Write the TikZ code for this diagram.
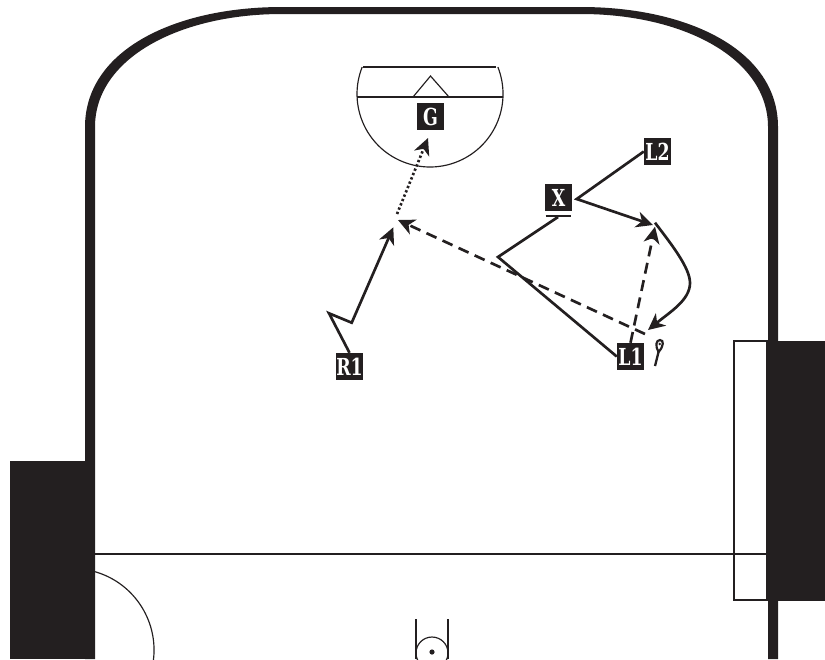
\documentclass[tikz,border=0pt]{standalone}
\usepackage{fontspec}
\setmainfont{DejaVu Serif}[FakeStretch=0.74]
\usepackage{tikz}
\usetikzlibrary{arrows.meta}
\definecolor{ink}{HTML}{231F20}
\tikzset{
  player/.style={fill=ink,text=white,inner sep=0pt,minimum size=0.81cm,font=\fontsize{20}{20}\selectfont\bfseries},
  run/.style={draw=ink,line width=0.08cm,-{Stealth[length=0.5cm,width=0.48cm,inset=0.15cm]}},
  cut/.style={draw=ink,line width=0.08cm},
  pass/.style={run,dash pattern=on 0.33cm off 0.2cm},
  shot/.style={run,dash pattern=on 0.07cm off 0.07cm},
  mark line/.style={draw=ink,line width=0.065cm},
  thin line/.style={draw=ink,line width=0.035cm}
}
\begin{document}
\begin{tikzpicture}[x=0.03cm,y=-0.03cm]
  \clip (0,0) rectangle (825,659);
  % rink
  \fill[ink] (85,659)--(85,127) .. controls (85,50) and (175,7) .. (282,7)
    --(581,7) .. controls (688,7) and (778,50) .. (778,127)--(778,659)
    --(768,659)--(768,127) .. controls (768,58) and (683,14) .. (581,14)
    --(282,14) .. controls (180,14) and (95,58) .. (95,127)--(95,659)--cycle;
  \draw[mark line] (95,554)--(767,554);
  \draw[thin line] (95,571.7) arc (-74:10:81.5);
  \draw[mark line] (734,341) rectangle (767,600);
  \fill[ink] (9.5,461) rectangle (95,659);
  \fill[ink] (767,341) rectangle (825,601);
  \draw[thin line] (416,619)--(416,659);
  \draw[thin line] (448,619)--(448,659);
  \draw[thin line] (432,653) circle (16);
  \fill[ink] (432,652) circle (2.6);
  % crease
  \draw[thin line] (363,67)--(496,67);
  \draw[thin line] (362.2,67) arc (201.7:-21.7:73);
  \draw[mark line] (356.5,97)--(503,97);
  \draw[thin line] (413,97)--(430.5,76)--(449,97);
  % players
  \node[player] (G) at (430.5,116.5) {G};
  \node[player] (L2) at (657.5,151.5) {L2};
  \node[player] (X) at (558.5,197.5) {X};
  \node[player] (L1) at (630.5,356.5) {L1};
  \node[player] (R1) at (349.5,366.5) {R1};
  \draw[ink,line width=0.075cm] (545.7,216)--(570.7,216);
  % bends and free ends
  \coordinate (r1turn) at (329,313.3);
  \coordinate (r1cut) at (351.7,322.7);
  \coordinate (r1end) at (393.3,227.3);
  \coordinate (shotstart) at (397,214);
  \coordinate (shotend) at (428,138);
  \coordinate (passstart) at (645,334);
  \coordinate (passend) at (398,220);
  \coordinate (backend) at (655,226.7);
  \coordinate (xguard) at (558,217);
  \coordinate (l1turn) at (498,257);
  \coordinate (l2turn) at (576.7,199);
  \coordinate (l2end) at (653,225);
  \coordinate (loopstart) at (655,222.7);
  \coordinate (loopmid) at (690,283);
  \coordinate (loopend) at (648,330);
  % connectors
  \draw[run] (R1.north)--(r1turn)--(r1cut)--(r1end);
  \draw[shot] (shotstart)--(shotend);
  \draw[pass] (passstart)--(passend);
  \draw[pass] (L1.north)--(backend);
  \draw[cut] (L1.west)--(l1turn)--(xguard);
  \draw[run] (L2.west)--(l2turn)--(l2end);
  \draw[run] (loopstart) .. controls (672,245) and (690,268) .. (loopmid)
    .. controls (690,300) and (670,312) .. (loopend);
  % stick
  \draw[ink,line width=0.07cm] (655,366)--(658.5,352);
  \draw[mark line] (658.5,352) .. controls (655,346) and (656,340) .. (660,340)
    .. controls (664,340) and (664,346) .. (658.5,352)--cycle;
  \fill[ink] (659.7,344) circle (1.4);
\end{tikzpicture}
\end{document}
